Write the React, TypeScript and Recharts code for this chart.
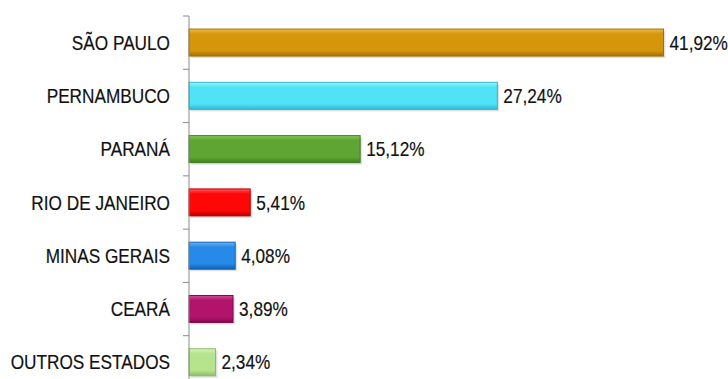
import { BarChart, Bar, XAxis, YAxis, Cell, LabelList } from "recharts";

const estados = [
  "SÃO PAULO",
  "PERNAMBUCO",
  "PARANÁ",
  "RIO DE JANEIRO",
  "MINAS GERAIS",
  "CEARÁ",
  "OUTROS ESTADOS",
];
const percentuais = [41.92, 27.24, 15.12, 5.41, 4.08, 3.89, 2.34];
const cores = ["#D5960C", "#50E2F7", "#5EA533", "#FF0707", "#2789E8", "#B2146C", "#B6E38E"];
const coresEscuras = ["#A47006", "#2FB8CC", "#3F7E1E", "#B80000", "#1162B4", "#7E0A4C", "#8DBB66"];
const coresClaras = ["#EDBE45", "#A4F3FC", "#86C659", "#FF5A5A", "#6FB4F4", "#D24C95", "#D9F5BD"];

const data = estados.map((estado, i) => ({ estado, valor: percentuais[i] }));

const FONT = "'Liberation Sans', Arial, sans-serif";
const NARROW = 0.82;
const TOP = 16;
const PLOT_H = 373;
const BAND = PLOT_H / estados.length;

// rótulo do estado + tracinho na divisa entre categorias (estilo Excel)
const EstadoTick = (props: any) => {
  const { x, y, payload, index } = props;
  const axisX = x + 19;
  return (
    <g>
      <line x1={axisX - 6} x2={axisX} y1={y - BAND / 2} y2={y - BAND / 2} stroke="#8a8a8a" />
      {index === estados.length - 1 && (
        <line x1={axisX - 6} x2={axisX} y1={y + BAND / 2} y2={y + BAND / 2} stroke="#8a8a8a" />
      )}
      <text
        transform={`translate(${x},${y}) scale(${NARROW},1)`}
        x={0}
        y={0}
        textAnchor="end"
        dominantBaseline="central"
        fontFamily={FONT}
        fontSize={21}
        fill="#111"
        stroke="#111"
        strokeWidth={0.2}
      >
        {payload.value}
      </text>
    </g>
  );
};

const BarraShape = (props: any) => {
  const { x, y, width, height, index } = props;
  if (!width || width <= 0) return null;
  return (
    <g>
      <rect x={x + 2} y={y + 2} width={width} height={height} fill="#000" opacity={0.12} />
      <rect
        x={x}
        y={y}
        width={width}
        height={height}
        fill={`url(#grad${index})`}
        stroke={coresEscuras[index]}
        strokeWidth={1}
      />
    </g>
  );
};

const ValorLabel = (props: any) => {
  const { x, y, width, height, value } = props;
  return (
    <text
      transform={`translate(${x + width + 6},${y + height / 2}) scale(${NARROW},1)`}
      x={0}
      y={0}
      dominantBaseline="central"
      fontFamily={FONT}
      fontSize={21}
      fill="#111"
      stroke="#111"
      strokeWidth={0.2}
    >
      {String(value.toFixed(2)).replace(".", ",")}%
    </text>
  );
};

export default function App() {
  return (
    <div style={{ width: 728, height: 379, overflow: "hidden", background: "#fff" }}>
      <style>{`body{margin:0}`}</style>
      <BarChart
        width={728}
        height={400}
        data={data}
        layout="vertical"
        margin={{ top: TOP, right: 7, bottom: 400 - TOP - PLOT_H, left: 0 }}
        barCategoryGap="24.5%"
      >
        <defs>
          {cores.map((c, i) => (
            <linearGradient key={i} id={`grad${i}`} x1="0" y1="0" x2="0" y2="1">
              <stop offset="0%" stopColor={coresClaras[i]} />
              <stop offset="18%" stopColor={c} />
              <stop offset="80%" stopColor={c} />
              <stop offset="100%" stopColor={coresEscuras[i]} />
            </linearGradient>
          ))}
        </defs>
        <XAxis type="number" domain={[0, 47]} hide />
        <YAxis
          type="category"
          dataKey="estado"
          width={189}
          axisLine={{ stroke: "#8a8a8a" }}
          tickLine={false}
          tick={<EstadoTick />}
          tickMargin={0}
          tickSize={19}
          interval={0}
        />
        <Bar dataKey="valor" shape={<BarraShape />} isAnimationActive={false}>
          {data.map((_, i) => (
            <Cell key={i} fill={cores[i]} />
          ))}
          <LabelList dataKey="valor" content={<ValorLabel />} />
        </Bar>
      </BarChart>
    </div>
  );
}
